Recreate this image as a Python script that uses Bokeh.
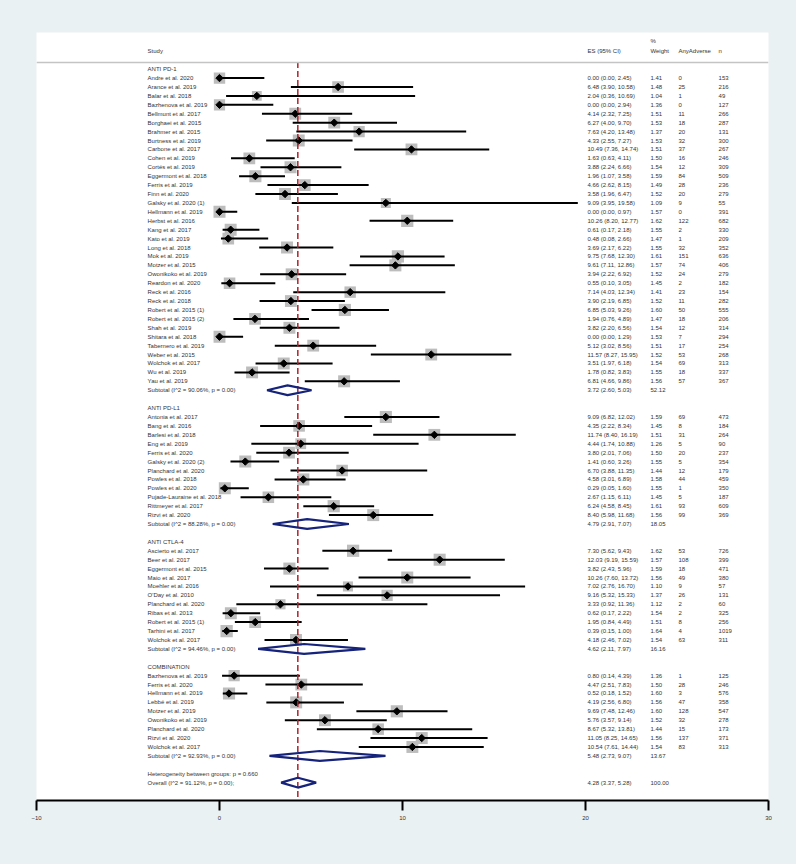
import numpy as np
from bokeh.plotting import figure
from bokeh.models import Range1d, FixedTicker, Span
from bokeh.core.properties import value
from bokeh.embed import file_html
from bokeh.resources import INLINE

# ---------------- data ----------------
pd1_names = ["Andre et al. 2020", "Arance et al. 2019", "Balar et al. 2018", "Bazhenova et al. 2019",
             "Bellmunt et al. 2017", "Borghaei et al. 2015", "Brahmer et al. 2015", "Burtness et al. 2019",
             "Carbone et al. 2017", "Cohen et al. 2019", "Cortés et al. 2019", "Eggermont et al. 2018",
             "Ferris et al. 2019", "Finn et al. 2020", "Galsky et al. 2020 (1)", "Hellmann et al. 2019",
             "Herbst et al. 2016", "Kang et al. 2017", "Kato et al.  2019", "Long et al. 2018",
             "Mok et al. 2019", "Motzer et al. 2015", "Owonikoko et al. 2019", "Reardon et al. 2020",
             "Reck et al. 2016", "Reck et al. 2018", "Robert et al. 2015 (1)", "Robert et al. 2015 (2)",
             "Shah et al. 2019", "Shitara et al.  2018", "Tabernero et al. 2019", "Weber et al. 2015",
             "Wolchok et al. 2017", "Wu et al.  2019", "Yau et al. 2019"]
pd1_es = [0.00, 6.48, 2.04, 0.00, 4.14, 6.27, 7.63, 4.33, 10.49, 1.63, 3.88, 1.96, 4.66, 3.58, 9.09, 0.00,
          10.26, 0.61, 0.48, 3.69, 9.75, 9.61, 3.94, 0.55, 7.14, 3.90, 6.85, 1.94, 3.82, 0.00, 5.12, 11.57,
          3.51, 1.78, 6.81]
pd1_lo = [0.00, 3.90, 0.36, 0.00, 2.32, 4.00, 4.20, 2.55, 7.36, 0.63, 2.24, 1.07, 2.62, 1.96, 3.95, 0.00,
          8.20, 0.17, 0.08, 2.17, 7.68, 7.11, 2.22, 0.10, 4.03, 2.19, 5.03, 0.76, 2.20, 0.00, 3.02, 8.27,
          1.97, 0.82, 4.66]
pd1_hi = [2.45, 10.58, 10.69, 2.94, 7.25, 9.70, 13.48, 7.27, 14.74, 4.11, 6.66, 3.58, 8.15, 6.47, 19.58, 0.97,
          12.77, 2.18, 2.66, 6.22, 12.30, 12.86, 6.92, 3.05, 12.34, 6.85, 9.26, 4.89, 6.56, 1.29, 8.56, 15.95,
          6.18, 3.83, 9.86]
pd1_w = [1.41, 1.48, 1.04, 1.36, 1.51, 1.53, 1.37, 1.53, 1.51, 1.50, 1.54, 1.59, 1.49, 1.52, 1.09, 1.57,
         1.62, 1.55, 1.47, 1.55, 1.61, 1.57, 1.52, 1.45, 1.41, 1.52, 1.60, 1.47, 1.54, 1.53, 1.51, 1.52,
         1.54, 1.55, 1.56]
pd1_ev = [0, 25, 1, 0, 11, 18, 20, 32, 37, 16, 12, 84, 28, 20, 9, 0, 122, 2, 1, 32, 151, 74, 24, 2, 23, 11,
          50, 18, 12, 7, 17, 53, 69, 18, 57]
pd1_n = [153, 216, 49, 127, 266, 287, 131, 300, 267, 246, 309, 509, 236, 279, 55, 391, 682, 330, 209, 352,
         636, 406, 279, 182, 154, 282, 555, 206, 314, 294, 254, 268, 313, 337, 367]
pd1_sub = ("Subtotal  (I^2 = 90.06%, p = 0.00)", 3.72, 2.60, 5.03, 52.12)

pdl1_names = ["Antonia et al. 2017", "Bang et al. 2016", "Barlesi et al. 2018", "Eng et al. 2019",
              "Ferris et al. 2020", "Galsky et al.  2020 (2)", "Planchard et al. 2020", "Powles et al. 2018",
              "Powles et al. 2020", "Pujade-Lauraine et al. 2018", "Rittmeyer et al. 2017", "Rizvi et al. 2020"]
pdl1_es = [9.09, 4.35, 11.74, 4.44, 3.80, 1.41, 6.70, 4.58, 0.29, 2.67, 6.24, 8.40]
pdl1_lo = [6.82, 2.22, 8.40, 1.74, 2.01, 0.60, 3.88, 3.01, 0.05, 1.15, 4.58, 5.98]
pdl1_hi = [12.02, 8.34, 16.19, 10.88, 7.06, 3.26, 11.35, 6.89, 1.60, 6.11, 8.45, 11.68]
pdl1_w = [1.59, 1.45, 1.51, 1.26, 1.50, 1.55, 1.44, 1.58, 1.55, 1.45, 1.61, 1.56]
pdl1_ev = [69, 8, 31, 5, 20, 5, 12, 44, 1, 5, 93, 99]
pdl1_n = [473, 184, 264, 90, 237, 354, 179, 459, 350, 187, 609, 369]
pdl1_sub = ("Subtotal  (I^2 = 88.28%, p = 0.00)", 4.79, 2.91, 7.07, 18.05)

ctla_names = ["Ascierto et al. 2017", "Beer et al. 2017", "Eggermont et al. 2015", "Maio et al. 2017",
              "Moehler et al. 2016", "O'Day et al. 2010", "Planchard et al. 2020", "Ribas et al. 2013",
              "Robert et al. 2015 (1)", "Tarhini et al. 2017", "Wolchok et al. 2017"]
ctla_es = [7.30, 12.03, 3.82, 10.26, 7.02, 9.16, 3.33, 0.62, 1.95, 0.39, 4.18]
ctla_lo = [5.62, 9.19, 2.43, 7.60, 2.76, 5.32, 0.92, 0.17, 0.84, 0.15, 2.46]
ctla_hi = [9.43, 15.59, 5.96, 13.72, 16.70, 15.33, 11.36, 2.22, 4.49, 1.00, 7.02]
ctla_w = [1.62, 1.57, 1.59, 1.56, 1.10, 1.37, 1.12, 1.54, 1.51, 1.64, 1.54]
ctla_ev = [53, 108, 18, 49, 9, 26, 2, 2, 8, 4, 63]
ctla_n = [726, 399, 471, 380, 57, 131, 60, 325, 256, 1019, 311]
ctla_sub = ("Subtotal  (I^2 = 94.46%, p = 0.00)", 4.62, 2.11, 7.97, 16.16)

comb_names = ["Bazhenova et al. 2019", "Ferris et al. 2020", "Hellmann et al. 2019", "Lebbé et al. 2019",
              "Motzer et al. 2019", "Owonikoko et al. 2019", "Planchard et al. 2020", "Rizvi et al. 2020",
              "Wolchok et al. 2017"]
comb_es = [0.80, 4.47, 0.52, 4.19, 9.69, 5.76, 8.67, 11.05, 10.54]
comb_lo = [0.14, 2.51, 0.18, 2.56, 7.48, 3.57, 5.32, 8.25, 7.61]
comb_hi = [4.39, 7.83, 1.52, 6.80, 12.46, 9.14, 13.81, 14.65, 14.44]
comb_w = [1.36, 1.50, 1.60, 1.56, 1.60, 1.52, 1.44, 1.56, 1.54]
comb_ev = [1, 28, 3, 47, 128, 32, 15, 137, 83]
comb_n = [125, 246, 576, 358, 547, 278, 173, 371, 313]
comb_sub = ("Subtotal  (I^2 = 92.93%, p = 0.00)", 5.48, 2.73, 9.07, 13.67)

group_titles = ["ANTI PD-1", "ANTI PD-L1", "ANTI CTLA-4", "COMBINATION"]
het_label = "Heterogeneity between groups: p = 0.660"
overall = ("Overall  (I^2 = 91.12%, p = 0.00);", 4.28, 3.37, 5.28, 100.00)

x_ticks = [-10, 0, 10, 20, 30]
header_cols = ["Study", "ES (95% CI)", "Weight", "AnyAdverse", "n"]

groups = [
    (pd1_names, pd1_es, pd1_lo, pd1_hi, pd1_w, pd1_ev, pd1_n, pd1_sub),
    (pdl1_names, pdl1_es, pdl1_lo, pdl1_hi, pdl1_w, pdl1_ev, pdl1_n, pdl1_sub),
    (ctla_names, ctla_es, ctla_lo, ctla_hi, ctla_w, ctla_ev, ctla_n, ctla_sub),
    (comb_names, comb_es, comb_lo, comb_hi, comb_w, comb_ev, comb_n, comb_sub),
]

# ---------------- layout (column positions in data units) ----------------
X_STUDY, X_ES, X_W, X_EV, X_N = -3.93, 20.11, 23.55, 25.08, 27.27

st_y, st_es, st_lo, st_hi, st_w = [], [], [], [], []
txt_x, txt_y, txt = [], [], []
sub_y, sub_es, sub_lo, sub_hi = [], [], [], []

row = 0
for title, (names, es, lo, hi, w, ev, n, sub) in zip(group_titles, groups):
    txt_x.append(X_STUDY); txt_y.append(row); txt.append(title)
    row += 1
    for i in range(len(names)):
        st_y.append(row); st_es.append(es[i]); st_lo.append(lo[i]); st_hi.append(hi[i]); st_w.append(w[i])
        for xx, s in [(X_STUDY, names[i]), (X_ES, f"{es[i]:.2f} ({lo[i]:.2f}, {hi[i]:.2f})"),
                      (X_W, f"{w[i]:.2f}"), (X_EV, str(ev[i])), (X_N, str(n[i]))]:
            txt_x.append(xx); txt_y.append(row); txt.append(s)
        row += 1
    lab, e, l, h, ww = sub
    sub_y.append(row); sub_es.append(e); sub_lo.append(l); sub_hi.append(h)
    for xx, s in [(X_STUDY, lab), (X_ES, f"{e:.2f} ({l:.2f}, {h:.2f})"), (X_W, f"{ww:.2f}")]:
        txt_x.append(xx); txt_y.append(row); txt.append(s)
    row += 2

txt_x.append(X_STUDY); txt_y.append(row); txt.append(het_label)
row += 1
lab, e, l, h, ww = overall
sub_y.append(row); sub_es.append(e); sub_lo.append(l); sub_hi.append(h)
for xx, s in [(X_STUDY, lab), (X_ES, f"{e:.2f} ({l:.2f}, {h:.2f})"), (X_W, f"{ww:.2f}")]:
    txt_x.append(xx); txt_y.append(row); txt.append(s)

# headers
HEAD_Y = -1.98
for xx, s in zip([X_STUDY, X_ES, X_W, X_EV, X_N], header_cols):
    txt_x.append(xx); txt_y.append(HEAD_Y); txt.append(s)
txt_x.append(X_W); txt_y.append(-3.2); txt.append("%")

# ---------------- figure ----------------
BG = "#EAF1F3"
p = figure(width=796, height=864, x_range=Range1d(-10, 30), y_range=Range1d(82.0, -4.11),
           output_backend="svg", toolbar_location=None, y_axis_location=None,
           min_border_left=36, min_border_right=28, min_border_top=32, min_border_bottom=64)
p.background_fill_color = "white"
p.border_fill_color = BG
p.outline_line_color = None
p.grid.visible = False

p.xaxis.ticker = FixedTicker(ticks=x_ticks)
p.xaxis.axis_line_width = 2
p.xaxis.axis_line_color = "black"
p.xaxis.major_tick_line_width = 2
p.xaxis.major_tick_line_color = "black"
p.xaxis.major_tick_out = 10
p.xaxis.major_tick_in = 0
p.xaxis.minor_tick_line_color = None
p.xaxis.major_label_text_font = "Liberation Sans"
p.xaxis.major_label_text_font_size = "6px"
p.xaxis.major_label_text_color = "#333333"
p.xaxis.major_label_standoff = 5

# header rule
p.add_layout(Span(location=-0.75, dimension="width", line_color="#c4c4c4", line_width=1.5))

# weight boxes
st_w = np.array(st_w)
p.scatter(x=st_es, y=st_y, marker="square", size=9.6 * np.sqrt(st_w), fill_color="#bdbdbd", line_color=None)
# CI lines
p.segment(x0=st_lo, x1=st_hi, y0=st_y, y1=st_y, line_color="black", line_width=2)
# point estimates
p.scatter(x=st_es, y=st_y, marker="square", size=5.2, angle=np.pi / 4, fill_color="black", line_color="black")

# overall line
p.segment(x0=[overall[1]], x1=[overall[1]], y0=[-0.8], y1=[82.0], line_color="#b0202a",
          line_width=1.5, line_dash="6 3")

# subtotal / overall diamonds
H = 0.55
xs = [[l, e, h, e] for e, l, h in zip(sub_es, sub_lo, sub_hi)]
ys = [[y, y - H, y, y + H] for y in sub_y]
p.patches(xs=xs, ys=ys, fill_color=None, line_color="#15237a", line_width=2.2)

# texts
p.text(x=txt_x, y=txt_y, text=txt, text_font=value("Liberation Sans"), text_font_size=value("6px"),
       text_baseline="middle", text_align="left", text_color="#333333")

html = file_html(p, INLINE)
html = html.replace("<body>", '<body style="background-color:#EAF1F3;">')
open("out.html", "w").write(html)
